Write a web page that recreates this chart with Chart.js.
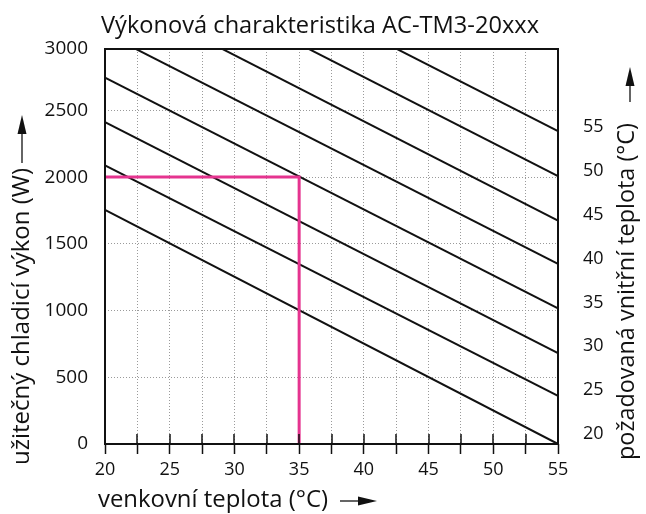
<!DOCTYPE html>
<html>
<head>
<meta charset="utf-8">
<script src="https://cdn.jsdelivr.net/npm/chart.js@4/dist/chart.umd.min.js"></script>
<style>
  html, body { margin: 0; padding: 0; background: #fff; }
  canvas { display: block; }
</style>
</head>
<body>
<canvas id="perfChart" width="646" height="514"></canvas>
<script>
// outdoor temperature range of every line (°C)
const outdoorRange = [20, 55];
// required indoor temperature of each line (°C)
const indoorTemps = [20, 25, 30, 35, 40, 45, 50, 55];
// cooling power (W) of each line at 20 °C and at 55 °C outdoors
const powerAt20 = [1755, 2087, 2412, 2745, 3078, 3410, 3740, 4075];
const powerAt55 = [0, 360, 681, 1016, 1349, 1674, 2007, 2345];

// axis ticks
const outdoorTicks = [20, 22.5, 25, 27.5, 30, 32.5, 35, 37.5, 40, 42.5, 45, 47.5, 50, 52.5, 55];
const powerTicks = [0, 500, 1000, 1500, 2000, 2500, 3000];
const indoorTicks = [20, 25, 30, 35, 40, 45, 50, 55];
const powerTop = 2960; // frame top sits a little under the 3000 label

// highlighted example point
const markerOutdoor = 35;
const markerPower = 2000;

const FONT = "'Open Sans', 'Noto Sans', sans-serif";
const INK = '#111';
const PINK = '#e5348f';

const lineSets = indoorTemps.map((t, i) => ({
  label: t + ' °C',
  data: [
    { x: outdoorRange[0], y: powerAt20[i] },
    { x: outdoorRange[1], y: powerAt55[i] }
  ],
  borderColor: INK,
  borderWidth: 2,
  pointRadius: 0,
  order: 1
}));

const markerSet = {
  label: 'example',
  data: [
    { x: outdoorRange[0], y: markerPower },
    { x: markerOutdoor, y: markerPower },
    { x: markerOutdoor, y: 0 }
  ],
  borderColor: PINK,
  borderWidth: 3,
  pointRadius: 0,
  order: 0
};

function arrow(ctx, x1, y1, x2, y2, head) {
  const a = Math.atan2(y2 - y1, x2 - x1);
  const bx = x2 - head * Math.cos(a), by = y2 - head * Math.sin(a);
  ctx.beginPath();
  ctx.moveTo(x1, y1);
  ctx.lineTo(bx, by);
  ctx.strokeStyle = INK;
  ctx.lineWidth = 1.3;
  ctx.stroke();
  const w = 4.5;
  ctx.beginPath();
  ctx.moveTo(x2, y2);
  ctx.lineTo(bx + w * Math.sin(a), by - w * Math.cos(a));
  ctx.lineTo(bx - w * Math.sin(a), by + w * Math.cos(a));
  ctx.closePath();
  ctx.fillStyle = INK;
  ctx.fill();
}

function text(ctx, str, x, y, size, width, rotate) {
  ctx.save();
  ctx.font = size + 'px ' + FONT;
  ctx.fillStyle = INK;
  ctx.textAlign = 'left';
  ctx.textBaseline = 'alphabetic';
  ctx.translate(x, y);
  if (rotate) ctx.rotate(-Math.PI / 2);
  ctx.fillText(str, 0, 0, width);
  ctx.restore();
}

const decor = {
  id: 'decor',
  afterDatasetsDraw(chart) {
    const { ctx, chartArea: a, scales } = chart;
    ctx.save();
    // small solid ticks inside the plot along the bottom
    ctx.strokeStyle = INK;
    ctx.lineWidth = 1.5;
    outdoorTicks.forEach((v) => {
      const px = Math.round(scales.x.getPixelForValue(v));
      ctx.beginPath();
      ctx.moveTo(px, a.bottom);
      ctx.lineTo(px, a.bottom - 10);
      ctx.stroke();
    });
    // frame
    ctx.lineWidth = 2;
    ctx.strokeRect(a.left, a.top, a.right - a.left, a.bottom - a.top);
    ctx.restore();
  },
  afterDraw(chart) {
    const ctx = chart.ctx;
    text(ctx, 'Výkonová charakteristika AC-TM3-20xxx', 101, 33, 24.5, 438, false);
    text(ctx, 'venkovní teplota (°C)', 98, 507, 24, 230, false);
    arrow(ctx, 340, 501, 377, 501, 19);
    text(ctx, 'užitečný chladicí výkon (W)', 29, 465, 24, 298, true);
    arrow(ctx, 22, 163, 22, 115, 19);
    text(ctx, 'požadovaná vnitřní teplota (°C)', 634, 460, 24, 337, true);
    arrow(ctx, 630, 102, 630, 67, 19);
  }
};

const gridStyle = {
  color: '#9a9a9a',
  lineWidth: 1
};
// in Chart.js v4 the dash of grid lines is set on the border options
const dottedBorder = { display: false, dash: [1, 2] };

new Chart(document.getElementById('perfChart'), {
  type: 'line',
  data: { datasets: [markerSet, ...lineSets] },
  options: {
    responsive: false,
    animation: false,
    events: [],
    layout: { padding: { top: 49, left: 0, right: 0, bottom: 0 } },
    plugins: { legend: { display: false }, tooltip: { enabled: false }, title: { display: false } },
    scales: {
      x: {
        type: 'linear',
        min: outdoorRange[0],
        max: outdoorRange[1],
        afterBuildTicks: (s) => { s.ticks = outdoorTicks.map((v) => ({ value: v })); },
        afterFit: (s) => { s.height = 70; },
        border: dottedBorder,
        grid: {
          ...gridStyle,
          drawTicks: true,
          tickLength: 10,
          tickColor: INK,
          tickWidth: 1.5,
          tickBorderDash: []
        },
        ticks: {
          autoSkip: false,
          maxRotation: 0,
          padding: 5,
          color: INK,
          font: { family: FONT, size: 18 },
          callback: (v) => (v % 5 === 0 ? String(v) : '')
        }
      },
      y: {
        type: 'linear',
        position: 'left',
        min: 0,
        max: powerTop,
        afterBuildTicks: (s) => { s.ticks = powerTicks.map((v) => ({ value: Math.min(v, powerTop) })); },
        afterFit: (s) => { s.width = 105; },
        border: dottedBorder,
        grid: { ...gridStyle, drawTicks: false },
        ticks: {
          padding: 17,
          color: INK,
          font: { family: FONT, size: 19 },
          callback: (v, i) => String(powerTicks[i])
        }
      },
      y2: {
        type: 'linear',
        position: 'right',
        min: 18.86,
        max: 63.89,
        afterBuildTicks: (s) => { s.ticks = indoorTicks.map((v) => ({ value: v })); },
        afterFit: (s) => { s.width = 88; },
        border: { display: false },
        grid: { display: false, drawTicks: false },
        ticks: {
          padding: 25,
          color: INK,
          font: { family: FONT, size: 18 },
          callback: (v) => String(v)
        }
      }
    }
  },
  plugins: [decor]
});
</script>
</body>
</html>
